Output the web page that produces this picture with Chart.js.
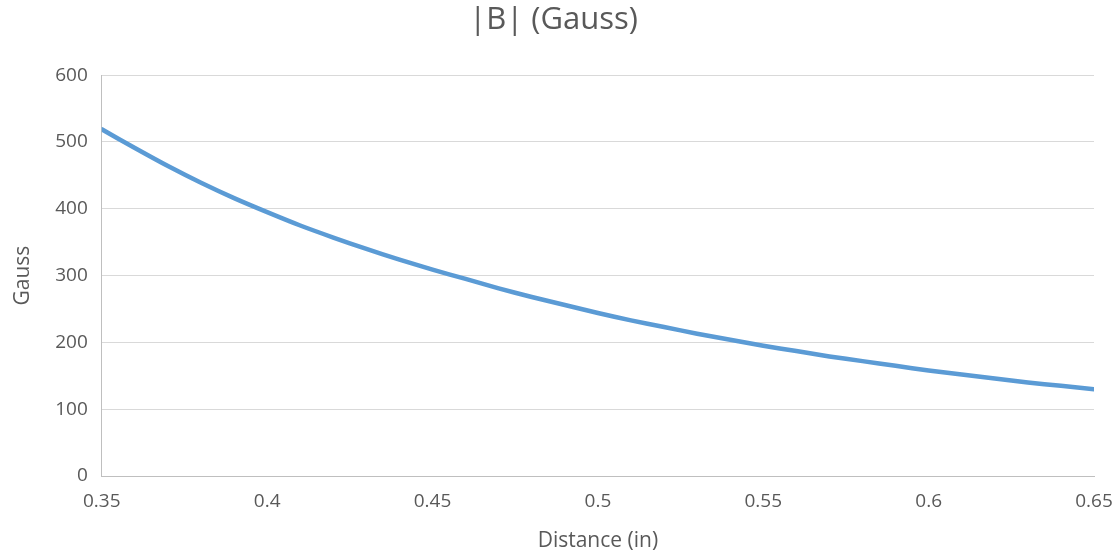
<!DOCTYPE html>
<html>
  <body style="margin: 0; background: #fff">
    <div style="width: 1117px; height: 558px">
      <canvas id="bChart" width="1117" height="558"></canvas>
    </div>

    <script src="https://cdn.jsdelivr.net/npm/chart.js"></script>

    <script>
      const distance = [
        0.35, 0.36, 0.37, 0.38, 0.39, 0.4, 0.41, 0.42, 0.43, 0.44, 0.45, 0.46,
        0.47, 0.48, 0.49, 0.5, 0.51, 0.52, 0.53, 0.54, 0.55, 0.56, 0.57, 0.58,
        0.59, 0.6, 0.61, 0.62, 0.63, 0.64, 0.65,
      ];
      const gauss = [
        519, 491, 464, 439, 416, 395, 375, 357, 340, 324, 309, 295, 281, 268,
        256, 244, 233, 223, 213, 204, 195, 187, 179, 172, 165, 158, 152, 146,
        140, 135, 130,
      ];

      const grey = "#595959";
      const fontFamily = "'Open Sans', sans-serif";

      const ctx = document.getElementById("bChart");

      new Chart(ctx, {
        type: "scatter",
        data: {
          datasets: [
            {
              data: distance.map((x, i) => ({ x: x, y: gauss[i] })),
              showLine: true,
              borderColor: "#5b9bd5",
              borderWidth: 4.5,
              pointRadius: 0,
              tension: 0.3,
              borderCapStyle: "round",
            },
          ],
        },
        options: {
          responsive: false,
          animation: false,
          layout: { padding: { left: 6, right: 16, top: 0, bottom: 0 } },
          plugins: {
            legend: { display: false },
            tooltip: { enabled: false },
            title: {
              display: true,
              text: "|B| (Gauss)",
              color: grey,
              font: { family: fontFamily, size: 31, weight: "normal" },
              padding: { top: 2, bottom: 36 },
            },
          },
          scales: {
            x: {
              type: "linear",
              min: 0.35,
              max: 0.65,
              afterFit: (scale) => {
                scale.paddingRight = 23;
              },
              ticks: {
                stepSize: 0.05,
                color: grey,
                font: { family: fontFamily, size: 19 },
                padding: 14,
                callback: (v) => String(+v.toFixed(2)),
              },
              grid: { display: false, drawTicks: false },
              border: { color: "#bfbfbf", width: 1 },
              title: {
                display: true,
                text: "Distance (in)",
                color: grey,
                font: { family: fontFamily, size: 21 },
                padding: { top: 2 },
              },
            },
            y: {
              min: 0,
              max: 600,
              ticks: {
                stepSize: 100,
                color: grey,
                font: { family: fontFamily, size: 19 },
                padding: 14,
              },
              grid: { color: "#d9d9d9", drawTicks: false },
              border: { color: "#bfbfbf", width: 1 },
              title: {
                display: true,
                text: "Gauss",
                color: grey,
                font: { family: fontFamily, size: 21 },
                padding: { bottom: 6 },
              },
            },
          },
        },
      });
    </script>
  </body>
</html>
